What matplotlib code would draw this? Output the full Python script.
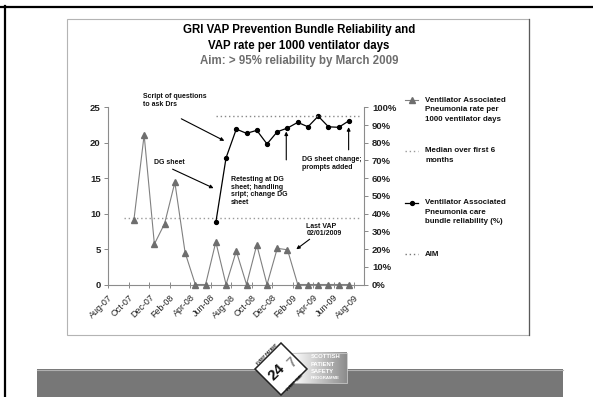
import matplotlib
import numpy as np

matplotlib.use("Agg")
import matplotlib.pyplot as plt
from matplotlib.lines import Line2D
from matplotlib.patches import Polygon, Rectangle

plt.rcParams["font.family"] = ["Liberation Sans", "DejaVu Sans"]

# Monthly slots on the date axis (one slot per month, ticks every 2 months)
MONTHS = ["Aug-07", "Sep-07", "Oct-07", "Nov-07", "Dec-07", "Jan-08", "Feb-08",
          "Mar-08", "Apr-08", "May-08", "Jun-08", "Jul-08", "Aug-08", "Sep-08",
          "Oct-08", "Nov-08", "Dec-08", "Jan-09", "Feb-09", "Mar-09", "Apr-09",
          "May-09", "Jun-09", "Jul-09", "Aug-09"]
TICK_LABELS = ["Aug-07", "Oct-07", "Dec-07", "Feb-08", "Apr-08", "Jun-08",
               "Aug-08", "Oct-08", "Dec-08", "Feb-09", "Apr-09", "Jun-09",
               "Aug-09"]

# VAP rate per 1000 ventilator days, Oct-07 .. Jul-09
VAP_START = "Oct-07"
VAP_RATE = [9.1, 21.1, 5.7, 8.6, 14.4, 4.5, 0, 0, 6.0, 0, 4.7, 0,
            5.6, 0, 5.1, 4.9, 0, 0, 0, 0, 0, 0]

# care bundle reliability (%), Jun-08 .. Jul-09
REL_START = "Jun-08"
RELIABILITY = [35, 71.5, 87.7, 85.3, 87, 79.3, 86.2, 88.3, 91.5, 89, 95,
               89, 88.7, 92.4]

MEDIAN_RATE = 9.4
MEDIAN_SPAN = ("Sep-07", "Aug-09")
AIM = 95
AIM_SPAN = ("Jun-08", "Aug-09")

LEFT_TICKS = [0, 5, 10, 15, 20, 25]
RIGHT_TICKS = [0, 10, 20, 30, 40, 50, 60, 70, 80, 90, 100]


def slot_centres(start, n):
    i0 = MONTHS.index(start)
    return np.arange(i0, i0 + n) + 0.5


def span(pair):
    return [MONTHS.index(pair[0]) + 0.5, MONTHS.index(pair[1]) + 0.5]


W, H = 593, 397
fig = plt.figure(figsize=(W / 100, H / 100), dpi=100)
fig.patch.set_facecolor("white")

# page decorations in pixel coordinates
over = fig.add_axes([0, 0, 1, 1], zorder=0)
over.axis("off")

over.add_line(Line2D([0, W], [6.8, 6.8], color="black", lw=1.6))
over.add_line(Line2D([5, 5], [6, H], color="black", lw=1.6))

over.add_patch(Rectangle((66.7, 19), 529.3 - 66.7, 335.3 - 19, fill=False,
                         edgecolor="#b4b4b4", lw=0.8))
over.add_line(Line2D([529.3, 529.3], [19, 335.3], color="#5a5a5a", lw=0.9))

over.add_patch(Rectangle((36.7, 369.3), 562.7 - 36.7, H - 369.3,
                         facecolor="#777777", edgecolor="none"))
over.add_line(Line2D([36.7, 562.7], [369.6, 369.6], color="#b0b0b0", lw=0.8))

# programme logo
grad = np.linspace(1.0, 0.55, 120)[None, :]
over.imshow(grad, cmap="gray", vmin=0, vmax=1, aspect="auto",
            extent=(292, 347, 383.3, 352.7), zorder=2)
over.add_patch(Rectangle((292, 352.7), 55, 30.6, fill=False,
                         edgecolor="#c8c8c8", lw=0.6, zorder=3))
for txt, yy, fs in [("SCOTTISH", 357, 4.2), ("PATIENT", 364.2, 4.2),
                    ("SAFETY", 371.4, 4.2), ("PROGRAMME", 378.3, 3.2)]:
    over.text(311, yy, txt, color="white", fontsize=fs, weight="bold",
              va="center", ha="left", zorder=4)
over.add_patch(Polygon([(255, 369), (281, 343), (307, 369), (281, 395)],
                       closed=True, facecolor="white", edgecolor="#222222",
                       lw=1.1, zorder=3))
over.text(277, 372, "24", fontsize=11, weight="bold", rotation=45,
          ha="center", va="center", color="#111111", zorder=4)
over.text(292, 362, "7", fontsize=10, weight="bold", rotation=45,
          ha="center", va="center", color="#8a8a8a", zorder=4)
over.text(267, 354.5, "EVERY PATIENT", fontsize=2.6, weight="bold",
          rotation=45, ha="center", va="center", color="#111111", zorder=4)
over.text(295, 383, "EVERY TIME", fontsize=2.6, weight="bold",
          rotation=45, ha="center", va="center", color="#111111", zorder=4)

# titles
over.text(298.8, 30.5, "GRI VAP Prevention Bundle Reliability and",
          ha="center", va="center", fontsize=8.3, weight="bold")
over.text(298.8, 45.6, "VAP rate per 1000 ventilator days",
          ha="center", va="center", fontsize=8.3, weight="bold")
over.text(298.8, 61.2, "Aim: > 95% reliability by March 2009",
          ha="center", va="center", fontsize=8.3, weight="bold",
          color="#6e6e6e")

# legend
legend_rows = [
    (100.0, dict(color="#808080", lw=0.8, ls="-"),
     dict(marker="^", ms=3.8, color="#6e6e6e"),
     ["Ventilator Associated", "Pneumonia rate per", "1000 ventilator days"]),
    (151.0, dict(color="#999999", ls=(0, (1, 2)), lw=1.0), None,
     ["Median over first 6", "months"]),
    (202.7, dict(color="black", lw=0.9, ls="-"),
     dict(marker="o", ms=2.8, color="black"),
     ["Ventilator Associated", "Pneumonia care", "bundle reliability (%)"]),
    (254.0, dict(color="#777777", ls=(0, (1, 2)), lw=1.0), None, ["AIM"]),
]
for y0, line_style, marker_style, lines in legend_rows:
    over.add_line(Line2D([405, 418.3], [y0, y0], **line_style))
    if marker_style:
        over.add_line(Line2D([411.6], [y0], ls="none", **marker_style))
    for k, line in enumerate(lines):
        over.text(425, y0 + k * 9.6, line, fontsize=5.7, weight="bold",
                  va="center", ha="left", color="#111111")

over.set_xlim(0, W)
over.set_ylim(H, 0)

# chart
ax = fig.add_axes([108.3 / W, 1 - 284.5 / H, 256 / W, 177.2 / H], zorder=1)
ax.patch.set_visible(False)
ax2 = ax.twinx()

ax.plot(slot_centres(VAP_START, len(VAP_RATE)), VAP_RATE, color="#808080",
        lw=0.8, marker="^", ms=3.8, mfc="#6e6e6e", mec="#6e6e6e",
        clip_on=False, zorder=3)
ax.plot(span(MEDIAN_SPAN), [MEDIAN_RATE, MEDIAN_RATE], color="#999999",
        lw=1.0, ls=(0, (1, 2)))
ax2.plot(slot_centres(REL_START, len(RELIABILITY)), RELIABILITY,
         color="black", lw=0.9, marker="o", ms=2.8, clip_on=False)
ax2.plot(span(AIM_SPAN), [AIM, AIM], color="#888888", lw=1.0,
         ls=(0, (1, 2)))

ax.set_xlim(0, len(MONTHS))
ax.set_ylim(0, 25)
ax2.set_ylim(0, 100)

ax.set_xticks([MONTHS.index(m) for m in TICK_LABELS])
ax.set_xticklabels(TICK_LABELS, rotation=45, ha="right",
                   rotation_mode="anchor", fontsize=6.4, color="#222222")
ax.set_yticks(LEFT_TICKS)
ax.set_yticklabels([str(v) for v in LEFT_TICKS], fontsize=6.8,
                   weight="bold", color="#222222")
ax2.set_yticks(RIGHT_TICKS)
ax2.set_yticklabels([f"{v}%" for v in RIGHT_TICKS], fontsize=6.8,
                    weight="bold", color="#222222")

ax.tick_params(axis="x", direction="inout", length=4, width=0.7,
               color="#888888", pad=4)
ax.tick_params(axis="y", direction="out", length=3, width=0.7,
               color="#888888", pad=2.5)
ax2.tick_params(axis="y", direction="out", length=3, width=0.7,
                color="#888888", pad=2.5)

for sp in ["top", "right"]:
    ax.spines[sp].set_visible(False)
for sp in ["top", "left", "bottom"]:
    ax2.spines[sp].set_visible(False)
for a, sps in [(ax, ["left", "bottom"]), (ax2, ["right"])]:
    for sp in sps:
        a.spines[sp].set_color("#8c8c8c")
        a.spines[sp].set_linewidth(0.8)

# annotations (left-axis data coordinates)
note_kw = dict(fontsize=5, weight="bold", color="#111111", linespacing=1.15,
               clip_on=False, ha="left")
ax.text(3.42, 27.0, "Script of questions\nto ask Drs", va="top", **note_kw)
ax.text(4.49, 17.16, "DG sheet", va="center", **note_kw)
ax.text(12.0, 15.32, "Retesting at DG\nsheet; handling\nsript; change DG\nsheet",
        va="top", **note_kw)
ax.text(18.95, 18.15, "DG sheet change;\nprompts added", va="top", **note_kw)
ax.text(19.34, 8.73, "Last VAP\n02/01/2009", va="top", **note_kw)

arrow_kw = dict(arrowstyle="-|>", color="black", lw=0.8, mutation_scale=5,
                shrinkA=0, shrinkB=0)
arrows = [((7.13, 23.38), (11.33, 20.27)),
          ((6.28, 16.27), (10.28, 13.59)),
          ((17.38, 17.58), (17.38, 21.58)),
          ((23.47, 19.0), (23.47, 22.2)),
          ((19.66, 6.38), (18.36, 4.97))]
for tail, head in arrows:
    ax.annotate("", xy=head, xytext=tail, arrowprops=arrow_kw,
                annotation_clip=False)

fig.savefig("out.png", dpi=100)
